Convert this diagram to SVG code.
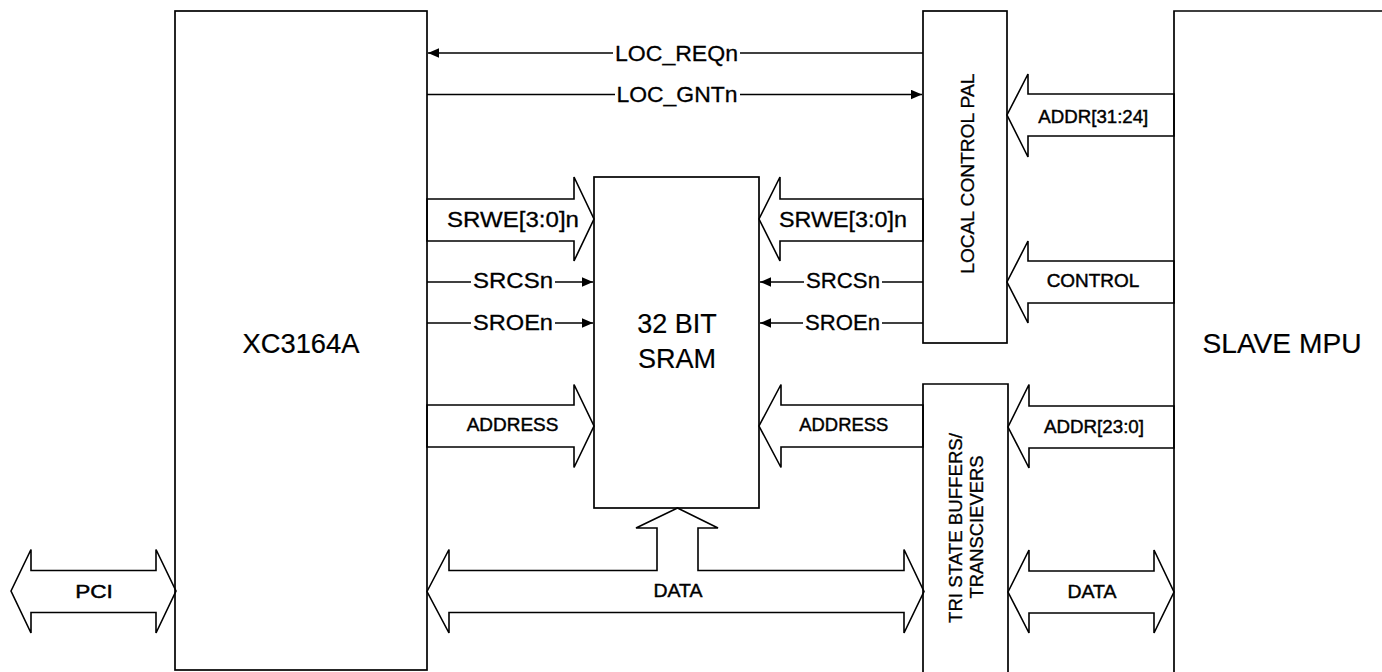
<svg xmlns="http://www.w3.org/2000/svg" width="1382" height="672" viewBox="0 0 1382 672">
<style>
.box{fill:none;stroke:#000;stroke-width:1.7}
.bus{fill:#fff;stroke:#000;stroke-width:1.6;stroke-linejoin:miter}
.sig{fill:none;stroke:#000;stroke-width:1.6}
text{font-family:"Liberation Sans",Arial,sans-serif;fill:#000;stroke:#000;stroke-width:0.3}
.big{font-size:27px;text-anchor:middle;stroke-width:0.2}
.med{font-size:22px;text-anchor:middle}
.sm{font-size:19px;text-anchor:middle;stroke-width:0.45}
.rot{font-size:18.5px;text-anchor:middle}
</style>
<defs>
<marker id="ah" markerWidth="12" markerHeight="10" refX="11" refY="4.75" orient="auto" markerUnits="userSpaceOnUse">
<path d="M0,0 L11,4.75 L0,9.5 z" fill="#000"/>
</marker>
</defs>
<rect width="1382" height="672" fill="#fff"/>

<g id="connectors">
<!-- signal lines -->
<line class="sig" x1="613" y1="53" x2="428" y2="53" marker-end="url(#ah)"/>
<line class="sig" x1="740" y1="53" x2="923" y2="53"/>
<line class="sig" x1="427" y1="94.5" x2="615" y2="94.5"/>
<line class="sig" x1="740" y1="94.5" x2="922" y2="94.5" marker-end="url(#ah)"/>
<line class="sig" x1="427" y1="282" x2="471" y2="282"/>
<line class="sig" x1="555" y1="282" x2="593" y2="282" marker-end="url(#ah)"/>
<line class="sig" x1="427" y1="323" x2="471" y2="323"/>
<line class="sig" x1="555" y1="323" x2="593" y2="323" marker-end="url(#ah)"/>
<line class="sig" x1="804" y1="282" x2="760" y2="282" marker-end="url(#ah)"/>
<line class="sig" x1="882" y1="282" x2="923" y2="282"/>
<line class="sig" x1="803" y1="323" x2="760" y2="323" marker-end="url(#ah)"/>
<line class="sig" x1="882" y1="323" x2="923" y2="323"/>
<!-- bus arrows -->
<polygon class="bus" points="427,199 574,199 574,177 594,219 574,261 574,241 427,241"/>
<polygon class="bus" points="923,199 780,199 780,177 759,219 780,261 780,241 923,241"/>
<polygon class="bus" points="427,405 574,405 574,384.5 594,426 574,467.5 574,447 427,447"/>
<polygon class="bus" points="923,405 781,405 781,384.5 759,426 781,467.5 781,447 923,447"/>
<polygon class="bus" points="1174,94 1028,94 1028,74 1007,115 1028,157 1028,136 1174,136"/>
<polygon class="bus" points="1174,261 1028,261 1028,241 1007,282 1028,323 1028,303 1174,303"/>
<polygon class="bus" points="1174,406 1029,406 1029,384.5 1008,427 1029,468 1029,448 1174,448"/>
<polygon class="bus" points="1008,592 1029,550 1029,571 1154,571 1154,550 1174,592 1154,633 1154,613 1029,613 1029,633"/>
<polygon class="bus" points="427,591.5 449,549.5 449,570.5 657,570.5 657,528 636,528 677.5,508 718,528 698,528 698,570.5 904,570.5 904,549.5 924,591.5 904,633 904,612.5 449,612.5 449,633"/>
<polygon class="bus" points="11,591 31,549.5 31,570.5 156,570.5 156,549.5 176,591 156,633 156,612.5 31,612.5 31,633"/>
</g>

<g id="xc3164a">
<rect class="box" x="175" y="11" width="252" height="659"/>
<text class="big" x="301" y="353" textLength="117" lengthAdjust="spacingAndGlyphs">XC3164A</text>
</g>
<g id="sram">
<rect class="box" x="594" y="177" width="165" height="331"/>
<text class="big" x="677" y="333">32 BIT</text>
<text class="big" x="677" y="368">SRAM</text>
</g>
<g id="pal">
<rect class="box" x="923" y="11" width="84" height="332"/>
<text class="rot" transform="translate(974,173.7) rotate(-90)" textLength="200" lengthAdjust="spacingAndGlyphs">LOCAL CONTROL PAL</text>
</g>
<g id="tristate">
<path class="box" d="M923,680 V384 H1008 V680"/>
<text class="rot" transform="translate(961.5,528) rotate(-90)" textLength="190" lengthAdjust="spacingAndGlyphs">TRI STATE BUFFERS/</text>
<text class="rot" transform="translate(983,527) rotate(-90)" textLength="143" lengthAdjust="spacingAndGlyphs">TRANSCIEVERS</text>
</g>
<g id="slave">
<path class="box" d="M1174,680 V11 H1390"/>
<text class="big" x="1282" y="353" textLength="159" lengthAdjust="spacingAndGlyphs">SLAVE MPU</text>
</g>

<g id="labels">
<text class="med" x="676.5" y="60.7" textLength="123" lengthAdjust="spacingAndGlyphs">LOC_REQn</text>
<text class="med" x="677" y="101.7" textLength="121" lengthAdjust="spacingAndGlyphs">LOC_GNTn</text>
<text class="med" x="513" y="226.7" textLength="132" lengthAdjust="spacingAndGlyphs">SRWE[3:0]n</text>
<text class="med" x="843" y="226.7" textLength="128" lengthAdjust="spacingAndGlyphs">SRWE[3:0]n</text>
<text class="med" x="513" y="288.3" textLength="80" lengthAdjust="spacingAndGlyphs">SRCSn</text>
<text class="med" x="513" y="330" textLength="80" lengthAdjust="spacingAndGlyphs">SROEn</text>
<text class="med" x="843" y="288.3" textLength="74" lengthAdjust="spacingAndGlyphs">SRCSn</text>
<text class="med" x="842.5" y="330" textLength="75" lengthAdjust="spacingAndGlyphs">SROEn</text>
<text class="sm" x="512.5" y="431" textLength="91.7" lengthAdjust="spacingAndGlyphs">ADDRESS</text>
<text class="sm" x="843.8" y="431" textLength="89" lengthAdjust="spacingAndGlyphs">ADDRESS</text>
<text class="sm" x="678" y="596.7" textLength="49" lengthAdjust="spacingAndGlyphs">DATA</text>
<text class="sm" x="1093.3" y="122.7" textLength="110" lengthAdjust="spacingAndGlyphs">ADDR[31:24]</text>
<text class="sm" x="1093" y="287.3" textLength="92.7" lengthAdjust="spacingAndGlyphs">CONTROL</text>
<text class="sm" x="1094" y="433.3" textLength="100" lengthAdjust="spacingAndGlyphs">ADDR[23:0]</text>
<text class="sm" x="1092" y="597.7" textLength="49" lengthAdjust="spacingAndGlyphs">DATA</text>
<text class="sm" x="94" y="598.3" textLength="37.7" lengthAdjust="spacingAndGlyphs">PCI</text>
</g>
</svg>
